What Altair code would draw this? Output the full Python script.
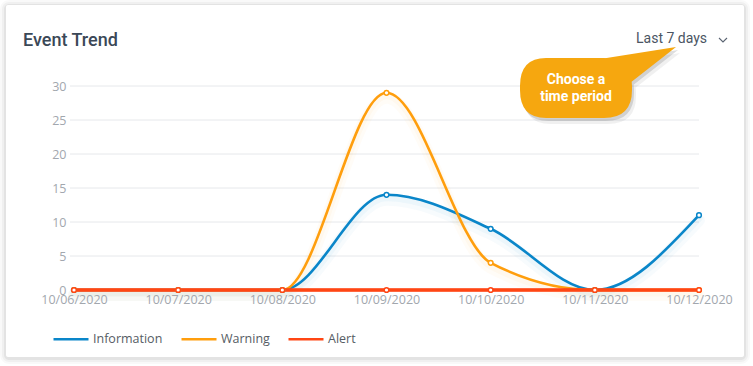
import altair as alt
import pandas as pd

# Daily event counts for the last 7 days
dates = ["10/06/2020", "10/07/2020", "10/08/2020", "10/09/2020",
         "10/10/2020", "10/11/2020", "10/12/2020"]
information = [0, 0, 0, 14, 9, 0, 11]
warning = [0, 0, 0, 29, 4, 0, 0]
alert = [0, 0, 0, 0, 0, 0, 0]

series_names = ["Information", "Warning", "Alert"]
series_colors = ["#0a86c9", "#ff9e0d", "#ff4614"]
y_ticks = [0, 5, 10, 15, 20, 25, 30]

rows = []
for name, values in zip(series_names, [information, warning, alert]):
    for i, (d, v) in enumerate(zip(dates, values)):
        rows.append({"idx": i, "date": d, "series": name, "count": v,
                     "order": series_names.index(name)})
df = pd.DataFrame(rows)
grid_df = pd.DataFrame({"count": y_ticks})

W, H = 629, 204
PAD_L, PAD_T = 70, 86

label_expr = "[" + ",".join(f"'{d}'" for d in dates) + "][datum.value]"

x_scale = alt.Scale(domain=[-0.0384, len(dates) - 1], nice=False, zero=False)
y_scale = alt.Scale(domain=[0, 30], nice=False)

x_enc = alt.X(
    "idx:Q", scale=x_scale,
    axis=alt.Axis(values=list(range(len(dates))), labelExpr=label_expr,
                  grid=False, domain=False, ticks=False, title=None,
                  labelFont="Open Sans", labelFontSize=12.5, labelColor="#a2a7ae",
                  labelPadding=3, labelOverlap=False, labelFlush=False,
                  zindex=1),
)
y_enc = alt.Y(
    "count:Q", scale=y_scale,
    axis=alt.Axis(values=y_ticks, grid=False, domain=False, ticks=False,
                  title=None, labelFont="Open Sans", labelFontSize=12.5,
                  labelColor="#a2a7ae", labelPadding=4, zindex=1),
)
color_scale = alt.Scale(domain=series_names, range=series_colors)
color_of = dict(zip(series_names, series_colors))

base = alt.Chart(df)
one = pd.DataFrame({"a": [0]})


def px(v):
    return alt.value(v)


# card background with a soft drop shadow
card_layers = []
for k, op in [(6, 0.025), (4, 0.035), (2, 0.05)]:
    card_layers.append(
        alt.Chart(one).mark_rect(color="#000000", opacity=op, cornerRadius=3 + k)
        .encode(x=px(6 - PAD_L - k), x2=px(744 - PAD_L + k),
                y=px(5 - PAD_T - k + 1), y2=px(357 - PAD_T + k + 1))
    )
card = alt.Chart(one).mark_rect(color="#ffffff", cornerRadius=2).encode(
    x=px(6 - PAD_L), x2=px(744 - PAD_L), y=px(5 - PAD_T), y2=px(357 - PAD_T))

# horizontal gridlines at the y ticks
grid = alt.Chart(grid_df).mark_rule(color="#e6e8eb", strokeWidth=1).encode(
    y=y_enc, x=px(0), x2=px(W),
)

# soft glow under the curves
glows = []
for name in ["Information", "Warning"]:
    for sw, op, dy in [(12, 0.03, 5), (7, 0.045, 3)]:
        glows.append(
            base.mark_line(interpolate="monotone", strokeWidth=sw, opacity=op,
                           yOffset=dy, strokeCap="round", color=color_of[name])
            .encode(x=x_enc, y=y_enc, order="idx:Q")
            .transform_filter(alt.datum.series == name)
        )

lines = base.mark_line(interpolate="monotone", strokeWidth=2.6).encode(
    x=x_enc, y=y_enc,
    color=alt.Color(
        "series:N", scale=color_scale, sort=series_names,
        legend=alt.Legend(orient="none", legendX=52 - PAD_L, legendY=320 - PAD_T,
                          direction="horizontal", title=None,
                          symbolType="stroke", symbolSize=1225,
                          symbolStrokeWidth=2.5, labelFont="Open Sans",
                          labelFontSize=12.5, labelColor="#565c64",
                          labelOffset=3, columnPadding=13, zindex=1),
    ),
    detail="series:N",
)
alert_line = base.mark_line(strokeWidth=3.4, color=color_of["Alert"]).encode(
    x=x_enc, y=y_enc,
).transform_filter(alt.datum.series == "Alert")

points = base.mark_point(filled=True, fill="white", size=22, strokeWidth=1.5,
                         opacity=1).encode(
    x=x_enc, y=y_enc,
    stroke=alt.Stroke("series:N", scale=color_scale, legend=None),
    order=alt.Order("order:Q"),
)

title = alt.Chart(one).mark_text(
    text="Event Trend", font="Roboto", fontSize=18, fontWeight=500,
    color="#3b4857", align="left", baseline="alphabetic"
).encode(x=px(23 - PAD_L), y=px(46 - PAD_T))

period = alt.Chart(one).mark_text(
    text="Last 7 days", font="Roboto", fontSize=14, color="#4b5563",
    align="left", baseline="alphabetic"
).encode(x=px(636 - PAD_L), y=px(43 - PAD_T))

chevron = alt.Chart(one).mark_point(
    shape="M-1,-0.5L0,0.5L1,-0.5", filled=False, size=64, strokeWidth=1.1,
    color="#5a6472", opacity=1
).encode(x=px(723 - PAD_L), y=px(40 - PAD_T))

bubble_path = ("M-0.44,-0.22 L0.14,-0.22 Q0.42,-0.22 0.42,0.06 L0.42,0.10 "
               "Q0.42,0.38 0.14,0.38 L-0.44,0.38 Q-0.70,0.38 -0.70,0.10 "
               "L-0.70,0.06 Q-0.70,-0.22 -0.44,-0.22 Z "
               "M0.04,-0.20 L0.86,-0.33 L0.40,0.03 Z")
bubble_shadow2 = alt.Chart(one).mark_point(
    shape=bubble_path, filled=True, size=40000, color="#000000", opacity=0.06,
    strokeWidth=0
).encode(x=px(594 - PAD_L), y=px(86 - PAD_T))
bubble_shadow = alt.Chart(one).mark_point(
    shape=bubble_path, filled=True, size=40000, color="#000000", opacity=0.13,
    strokeWidth=0
).encode(x=px(592 - PAD_L), y=px(83 - PAD_T))
bubble = alt.Chart(one).mark_point(
    shape=bubble_path, filled=True, size=40000, color="#f6a70f", opacity=1,
    strokeWidth=0
).encode(x=px(590 - PAD_L), y=px(80 - PAD_T))

bubble_text1 = alt.Chart(one).mark_text(
    text="Choose a", font="Roboto", fontSize=14, fontWeight="bold",
    color="white", align="center", baseline="alphabetic"
).encode(x=px(576 - PAD_L), y=px(84 - PAD_T))
bubble_text2 = alt.Chart(one).mark_text(
    text="time period", font="Roboto", fontSize=14, fontWeight="bold",
    color="white", align="center", baseline="alphabetic"
).encode(x=px(576 - PAD_L), y=px(101 - PAD_T))

chart = alt.layer(
    *card_layers, card, grid, *glows, lines, alert_line, points,
    title, period, chevron, bubble_shadow2, bubble_shadow, bubble,
    bubble_text1, bubble_text2,
).properties(
    width=W, height=H,
    padding={"left": PAD_L, "top": PAD_T, "right": 753 - PAD_L - W,
             "bottom": 366 - PAD_T - H},
    autosize=alt.AutoSizeParams(type="none"),
    background="white",
).configure_view(stroke=None)

chart.save("out.html", embed_options={"renderer": "svg", "actions": False})
